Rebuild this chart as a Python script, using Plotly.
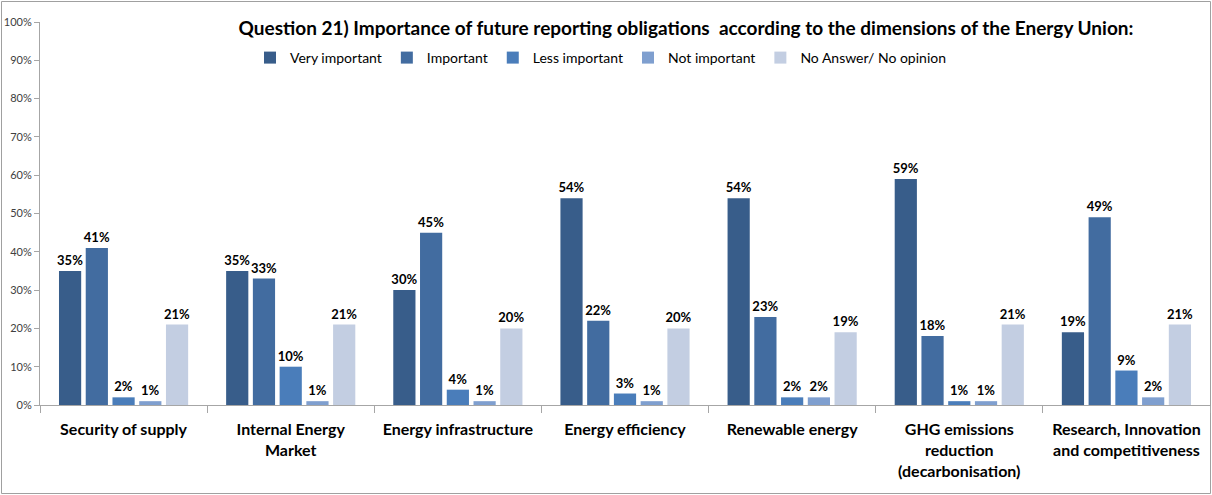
import plotly.graph_objects as go

categories = ["Security of supply", "Internal Energy<br>Market", "Energy infrastructure",
              "Energy efficiency", "Renewable energy", "GHG emissions<br>reduction<br>(decarbonisation)",
              "Research, Innovation<br>and competitiveness"]
series_names = ["Very important", "Important", "Less important", "Not important", "No Answer/ No opinion"]
very_important = [35, 35, 30, 54, 54, 59, 19]
important = [41, 33, 45, 22, 23, 18, 49]
less_important = [2, 10, 4, 3, 2, 1, 9]
not_important = [1, 1, 1, 1, 2, 1, 2]
no_answer = [21, 21, 20, 20, 19, 21, 21]
y_ticks = [0, 10, 20, 30, 40, 50, 60, 70, 80, 90, 100]

colors = ["#385D8A", "#426CA0", "#4A7DBA", "#7F9FCF", "#C3CEE2"]
series = [very_important, important, less_important, not_important, no_answer]

FONT = "Lato"
fig = go.Figure()
for name, vals, c in zip(series_names, series, colors):
    fig.add_trace(go.Bar(
        x=categories, y=vals, name=name,
        marker=dict(color=c, line=dict(width=0)),
        text=[f"{v}%" for v in vals], textposition="outside", constraintext="none",
        textfont=dict(family=FONT, size=13, color="#000000", weight="bold"),
        cliponaxis=False,
    ))

W, H = 1212, 495
ml, mr, mt, mb = 40, 2, 22, 90
pw, ph = W - ml - mr, H - mt - mb

fig.update_layout(
    width=W, height=H,
    margin=dict(l=ml, r=mr, t=mt, b=mb, autoexpand=False),
    paper_bgcolor="white", plot_bgcolor="white",
    font=dict(family=FONT, color="#000000"),
    barmode="group", bargap=0.2, bargroupgap=0.17,
    title=dict(text="<b>Question 21) Importance of future reporting obligations  according to the dimensions of the Energy Union:</b>",
               x=686 / W, xanchor="center", xref="container",
               y=1 - 28 / H, yanchor="middle", yref="container", automargin=False,
               font=dict(family=FONT, size=19, color="#000000")),
    legend=dict(orientation="h", xref="container", yref="container",
                x=250 / W, xanchor="left", y=1 - 58 / H, yanchor="middle",
                font=dict(family=FONT, size=14, color="#000000"),
                bgcolor="rgba(0,0,0,0)", traceorder="normal"),
    showlegend=True,
    xaxis=dict(showline=True, linecolor="#A6A6A6", linewidth=1,
               ticks="outside", tickson="boundaries", ticklen=7, tickcolor="#A6A6A6",
               tickangle=0, ticklabelstandoff=10,
               tickfont=dict(family=FONT, size=16, color="#000000", weight="bold"),
               showgrid=False, zeroline=False, automargin=False),
    yaxis=dict(range=[0, 100], tickvals=y_ticks, ticktext=[f"{v}%" for v in y_ticks],
               showline=True, linecolor="#A6A6A6", linewidth=1,
               ticks="outside", ticklen=5, tickcolor="#A6A6A6",
               tickfont=dict(family=FONT, size=11, color="#404040"),
               showgrid=False, zeroline=False, automargin=False),
    shapes=[dict(type="rect", xref="paper", yref="paper",
                 x0=-(ml - 1.5) / pw, x1=1 + (mr - 1.5) / pw,
                 y0=-(mb - 1.5) / ph, y1=1 + (mt - 1.5) / ph,
                 line=dict(color="#A0A0A0", width=1), fillcolor="rgba(0,0,0,0)", layer="below")],
)
fig.write_html("out.html", config={"displayModeBar": False},
               post_script="document.body.style.margin='0';document.body.style.overflow='hidden';")
